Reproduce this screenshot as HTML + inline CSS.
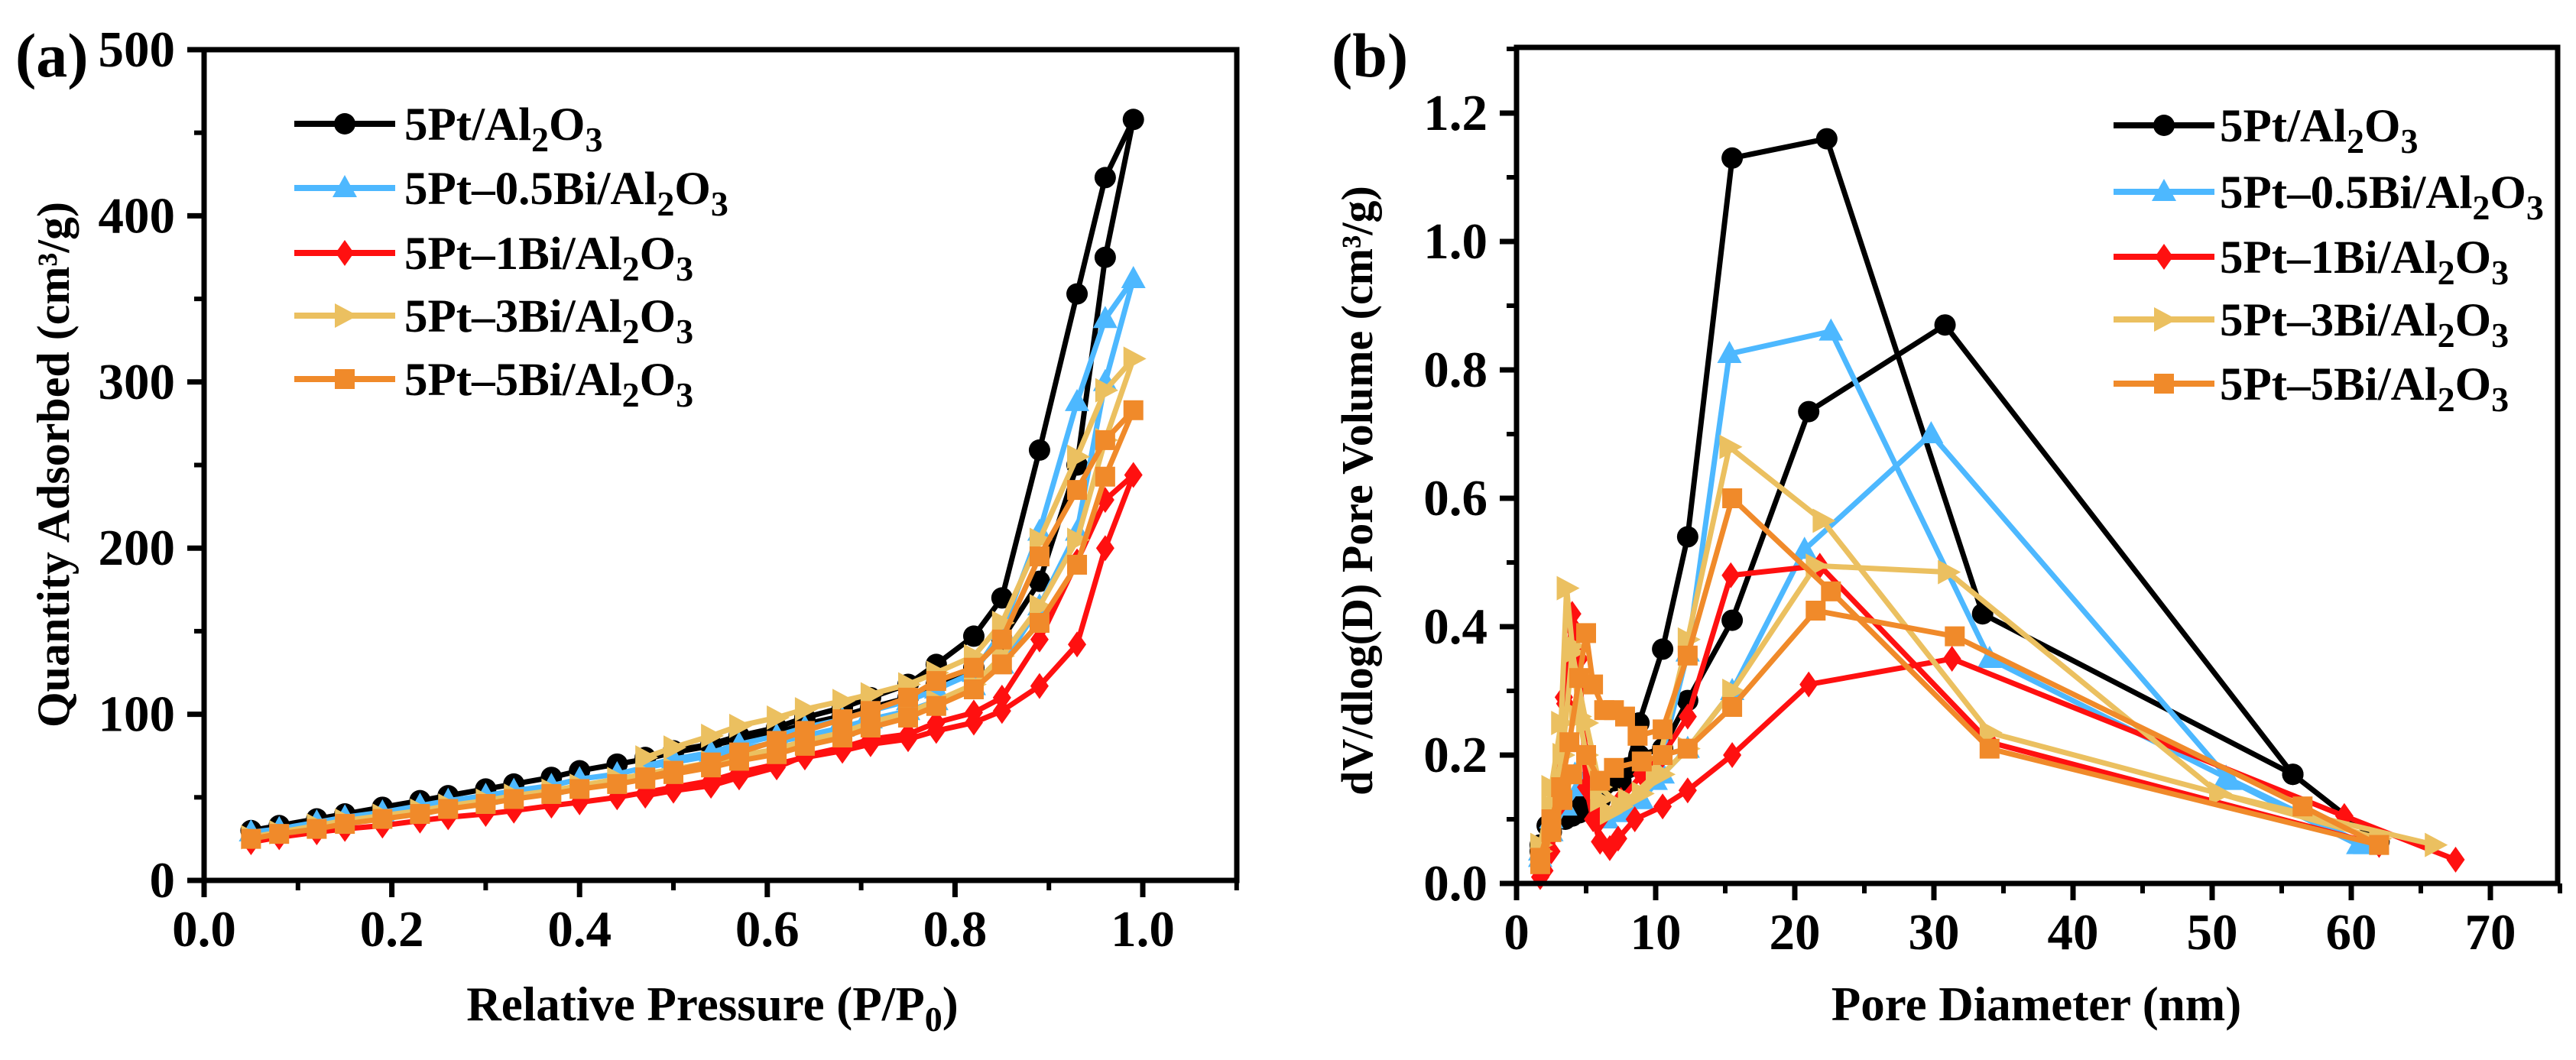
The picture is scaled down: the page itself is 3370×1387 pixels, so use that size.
<!DOCTYPE html>
<html><head><meta charset="utf-8">
<style>
html,body{margin:0;padding:0;background:#fff;}
svg{display:block;font-family:"Liberation Serif","Times New Roman",serif;font-weight:bold;}
</style></head>
<body>
<svg id="chart" width="3370" height="1387" viewBox="0 0 3370 1387" xmlns="http://www.w3.org/2000/svg">
<g id="pa"></g>
<g id="pb"></g>
</svg>
<script>
// ---------- data ----------
const seriesNames = ["5Pt/Al2O3","5Pt–0.5Bi/Al2O3","5Pt–1Bi/Al2O3","5Pt–3Bi/Al2O3","5Pt–5Bi/Al2O3"];
const seriesColors = ["#000000","#4db8ff","#ff1010","#ebc060","#f08a2a"];
const seriesMarkers = ["circle","triangle","diamond","right","square"];
// Panel (a) isotherms
const adsP = [0.05,0.08,0.12,0.15,0.19,0.23,0.26,0.30,0.33,0.37,0.40,0.44,0.47,0.50,0.54,0.57,0.61,0.64,0.68,0.71,0.75,0.78,0.82,0.85,0.89,0.93,0.96,0.99];
const desP = [0.96,0.93,0.89,0.85,0.82,0.78,0.75,0.71,0.68,0.64,0.61,0.57,0.54,0.50,0.47];
const adsBlack  = [30,33,37,40,44,48,51,55,58,62,66,70,73,77,81,85,89,94,99,104,110,118,128,145,180,250,375,458];
const desBlack  = [423,353,259,170,147,130,118,110,104,98,92,87,82,78,74];
const adsBlue   = [29,31,35,38,41,45,48,51,54,57,61,64,68,71,75,79,83,87,92,97,102,108,117,130,165,210,300,362];
const desBlue   = [338,288,210,150,125,115,108,102,97,92,87,82,77,73,69];
const adsRed    = [23,26,29,31,33,36,38,40,42,45,47,50,53,56,60,65,70,74,78,82,85,90,95,102,117,142,200,244];
const desRed    = [229,192,145,110,101,95,88,85,80,75,68,62,57,54,51];
const adsYellow = [26,29,33,36,39,42,45,48,51,54,57,61,64,67,71,75,79,84,89,95,101,108,118,135,165,205,265,314];
const desYellow = [295,255,205,155,135,125,118,112,108,103,98,93,87,80,74];
const adsOrange = [25,28,31,34,37,40,43,46,49,52,55,58,61,64,68,72,76,81,86,92,98,105,115,130,155,190,243,283];
const desOrange = [265,235,195,145,128,120,110,102,97,90,84,77,71,66,62];
const adsA = [adsBlack,adsBlue,adsRed,adsYellow,adsOrange];
const desA = [desBlack,desBlue,desRed,desYellow,desOrange];
const aXTicks = [0,0.2,0.4,0.6,0.8,1.0];
const aXTickLabels = ["0.0","0.2","0.4","0.6","0.8","1.0"];
const aYTicks = [0,100,200,300,400,500];
const aYTickLabels = ["0","100","200","300","400","500"];
// Panel (b) pore size distributions (two curves per sample)
const bBlackX1 = [1.7,2.2,2.8,3.4,4.0,4.5,5.2,6.0,7.0,8.0,8.8,10.5,12.3,15.5,22.3,33.5,55.8,62];
const bBlackY1 = [0.06,0.09,0.11,0.12,0.105,0.12,0.14,0.13,0.16,0.18,0.25,0.365,0.54,1.13,1.16,0.42,0.17,0.065];
const bBlackX2 = [1.7,2.5,3.5,4.5,6.0,7.5,8.8,10.5,12.3,15.5,21.0,30.8,55.8];
const bBlackY2 = [0.05,0.08,0.1,0.11,0.13,0.16,0.2,0.21,0.285,0.41,0.735,0.87,0.17];
const bBlueX1 = [1.7,2.5,3.3,4.2,5.5,6.5,8.0,10.0,12.3,15.3,22.6,34.0,51.0,61.0];
const bBlueY1 = [0.05,0.1,0.15,0.17,0.17,0.1,0.11,0.16,0.36,0.825,0.86,0.35,0.165,0.06];
const bBlueX2 = [1.7,2.5,3.5,4.5,6.0,7.5,9.0,10.5,12.3,15.5,20.7,29.8,51.3,60.5];
const bBlueY2 = [0.04,0.08,0.12,0.15,0.12,0.11,0.13,0.17,0.21,0.3,0.52,0.7,0.16,0.06];
const bRedX1 = [1.7,2.2,2.8,3.4,4.0,5.0,6.0,7.5,9.0,10.5,12.3,15.4,21.8,34.0,62.0];
const bRedY1 = [0.02,0.05,0.12,0.29,0.4,0.2,0.1,0.13,0.17,0.2,0.26,0.48,0.495,0.22,0.06];
const bRedX2 = [1.7,2.0,2.5,3.0,3.5,4.0,4.5,5.0,5.5,6.0,6.7,7.3,8.5,10.5,12.3,15.5,21.0,31.3,59.5,67.5];
const bRedY2 = [0.01,0.02,0.05,0.12,0.28,0.42,0.35,0.15,0.1,0.065,0.055,0.07,0.1,0.12,0.145,0.2,0.31,0.35,0.105,0.037];
const bYellowX1 = [1.7,2.5,3.2,3.6,4.0,4.5,5.0,6.0,6.7,8.0,10.0,12.3,15.3,22.0,34.0,50.5,62.0];
const bYellowY1 = [0.06,0.15,0.25,0.46,0.37,0.26,0.2,0.13,0.11,0.13,0.17,0.38,0.68,0.565,0.235,0.14,0.07];
const bYellowX2 = [1.7,2.5,3.3,4.0,5.0,6.0,7.5,9.0,10.5,12.3,15.5,21.5,31.0,50.5,66.0];
const bYellowY2 = [0.05,0.12,0.2,0.36,0.25,0.15,0.12,0.14,0.17,0.21,0.3,0.495,0.485,0.14,0.06];
const bOrangeX1 = [1.7,2.5,3.2,3.8,4.5,5.0,5.5,6.3,7.0,7.8,8.7,10.5,12.3,15.5,22.6,34.0,62.0];
const bOrangeY1 = [0.04,0.1,0.15,0.22,0.32,0.39,0.31,0.27,0.27,0.26,0.23,0.24,0.355,0.6,0.455,0.21,0.06];
const bOrangeX2 = [1.7,2.5,3.3,4.0,5.0,6.0,7.0,9.0,10.5,12.3,15.5,21.5,31.5,56.5,62.0];
const bOrangeY2 = [0.03,0.08,0.13,0.17,0.2,0.16,0.18,0.19,0.2,0.21,0.275,0.425,0.385,0.12,0.06];
const bCurvesX = [[bBlackX1,bBlackX2],[bBlueX1,bBlueX2],[bRedX1,bRedX2],[bYellowX1,bYellowX2],[bOrangeX1,bOrangeX2]];
const bCurvesY = [[bBlackY1,bBlackY2],[bBlueY1,bBlueY2],[bRedY1,bRedY2],[bYellowY1,bYellowY2],[bOrangeY1,bOrangeY2]];
const bXTicks = [0,10,20,30,40,50,60,70];
const bXTickLabels = ["0","10","20","30","40","50","60","70"];
const bYTicks = [0,0.2,0.4,0.6,0.8,1.0,1.2];
const bYTickLabels = ["0.0","0.2","0.4","0.6","0.8","1.0","1.2"];

// ---------- drawing ----------
const NS = "http://www.w3.org/2000/svg";
function mk(tag, parent, attrs){
  const e = document.createElementNS(NS, tag);
  for (const k in attrs) e.setAttribute(k, attrs[k]);
  parent.appendChild(e);
  return e;
}
function marker(g, type, x, y, color){
  const r = 14;
  let e;
  if (type==="circle") e = mk("circle", g, {cx:x, cy:y, r:r, fill:color});
  else if (type==="triangle") e = mk("polygon", g, {points:`${x},${y-r-3} ${x-r-2},${y+r-2} ${x+r+2},${y+r-2}`, fill:color});
  else if (type==="diamond") e = mk("polygon", g, {points:`${x},${y-r-3} ${x+r-2},${y} ${x},${y+r+3} ${x-r+2},${y}`, fill:color});
  else if (type==="right") e = mk("polygon", g, {points:`${x+r+3},${y} ${x-r+1},${y-r-2} ${x-r+1},${y+r+2}`, fill:color});
  else e = mk("rect", g, {x:x-r+1, y:y-r+1, width:2*r-2, height:2*r-2, fill:color});
  return e;
}
function frame(g, L, R, T, B, xs, ys, xTicks, xLabels, xMinor, yTicks, yLabels, yMinor){
  const ax = mk("rect", g, {x:L, y:T, width:R-L, height:B-T, fill:"none", stroke:"#000", "stroke-width":7});
  
  
  xTicks.forEach((v,i)=>{
    const x = xs(v);
    mk("line", g, {x1:x, x2:x, y1:B, y2:B+22, stroke:"#000", "stroke-width":7});
    const t = mk("text", g, {x:x, y:B+86, "text-anchor":"middle", "font-size":67});
    t.textContent = xLabels[i];
    
    
  });
  xMinor.forEach(v=>{ const x=xs(v); mk("line", g, {x1:x, x2:x, y1:B, y2:B+13, stroke:"#000", "stroke-width":6}); });
  yTicks.forEach((v,i)=>{
    const y = ys(v);
    mk("line", g, {x1:L-22, x2:L, y1:y, y2:y, stroke:"#000", "stroke-width":7});
    const t = mk("text", g, {x:L-38, y:y+22, "text-anchor":"end", "font-size":67});
    t.textContent = yLabels[i];
    
    
  });
  yMinor.forEach(v=>{ const y=ys(v); mk("line", g, {x1:L-13, x2:L, y1:y, y2:y, stroke:"#000", "stroke-width":6}); });
}
function legend(g, lx, rowsY, textX){
  seriesNames.forEach((n,i)=>{
    const lg = mk("g", g, {});
    
    
    const y = rowsY[i];
    mk("line", lg, {x1:lx, x2:lx+132, y1:y, y2:y, stroke:seriesColors[i], "stroke-width":8});
    marker(lg, seriesMarkers[i], lx+66, y, seriesColors[i]);
    const t = mk("text", lg, {x:textX, y:y+21, "font-size":61});
    const base = n.replace("Al2O3","Al");
    const s1 = mk("tspan", t, {}); s1.textContent = base;
    const s2 = mk("tspan", t, {dy:15, "font-size":46}); s2.textContent = "2";
    const s3 = mk("tspan", t, {dy:-15}); s3.textContent = "O";
    const s4 = mk("tspan", t, {dy:15, "font-size":46}); s4.textContent = "3";
  });
}

// Panel a
(function(){
  const g = document.getElementById("pa");
  const L=267, R=1618, T=65, B=1152;
  const xs = v => L + v*(1495-267);
  const ys = v => B - v*(B-T)/500;
  adsA.forEach((ads,i)=>{
    const sg = mk("g", g, {});
    
    
    const des = desA[i];
    const ptsA = adsP.map((p,j)=>[xs(p), ys(ads[j])]);
    const ptsD = [[xs(adsP[adsP.length-1]), ys(ads[ads.length-1])]].concat(desP.map((p,j)=>[xs(p), ys(des[j])]));
    mk("polyline", sg, {points:ptsA.map(p=>p.join(",")).join(" "), fill:"none", stroke:seriesColors[i], "stroke-width":7, "stroke-linejoin":"round"});
    mk("polyline", sg, {points:ptsD.map(p=>p.join(",")).join(" "), fill:"none", stroke:seriesColors[i], "stroke-width":7, "stroke-linejoin":"round"});
    ptsA.concat(ptsD.slice(1)).forEach(p=>marker(sg, seriesMarkers[i], p[0], p[1], seriesColors[i]));
  });
  frame(g, L, R, T, B, xs, ys, aXTicks, aXTickLabels, [0.1,0.3,0.5,0.7,0.9,1.1], aYTicks, aYTickLabels, [50,150,250,350,450]);
  legend(g, 385, [162,246,331,413,496], 529);
  const lab = mk("text", g, {x:20, y:100, "font-size":82}); lab.textContent="(a)";
   
  const xt = mk("text", g, {x:932, y:1335, "text-anchor":"middle", "font-size":63});
   
  const x1 = mk("tspan", xt, {}); x1.textContent = "Relative Pressure (P/P";
  const x2 = mk("tspan", xt, {dy:14, "font-size":46}); x2.textContent = "0";
  const x3 = mk("tspan", xt, {dy:-14}); x3.textContent = ")";
  const yt = mk("text", g, {x:0, y:0, "text-anchor":"middle", "font-size":60, transform:"translate(90,608) rotate(-90)"});
  yt.textContent = "Quantity Adsorbed (cm³/g)";
   
})();

// Panel b
(function(){
  const g = document.getElementById("pb");
  const L=1984, R=3346, T=62, B=1156;
  const xs = v => L + v*(3258-1984)/70;
  const ys = v => B - v*(B-148)/1.2;
  bCurvesX.forEach((cx,i)=>{
    const sg = mk("g", g, {});
    
    
    cx.forEach((xsArr,k)=>{
      const ysArr = bCurvesY[i][k];
      const pts = xsArr.map((v,j)=>[xs(v), ys(ysArr[j])]);
      mk("polyline", sg, {points:pts.map(p=>p.join(",")).join(" "), fill:"none", stroke:seriesColors[i], "stroke-width":7, "stroke-linejoin":"round"});
      pts.forEach(p=>marker(sg, seriesMarkers[i], p[0], p[1], seriesColors[i]));
    });
  });
  frame(g, L, R, T, B, xs, ys, bXTicks, bXTickLabels, [5,15,25,35,45,55,65,75], bYTicks, bYTickLabels, [0.1,0.3,0.5,0.7,0.9,1.1,1.3]);
  legend(g, 2765, [164,251,336,418,502], 2904);
  const lab = mk("text", g, {x:1742, y:100, "font-size":82}); lab.textContent="(b)";
   
  const xt = mk("text", g, {x:2664, y:1335, "text-anchor":"middle", "font-size":63});
  xt.textContent = "Pore Diameter (nm)";
   
  const yt = mk("text", g, {x:0, y:0, "text-anchor":"middle", "font-size":58, transform:"translate(1795,642) rotate(-90)"});
  yt.textContent = "dV/dlog(D) Pore Volume (cm³/g)";
   
})();
</script>
</body></html>
